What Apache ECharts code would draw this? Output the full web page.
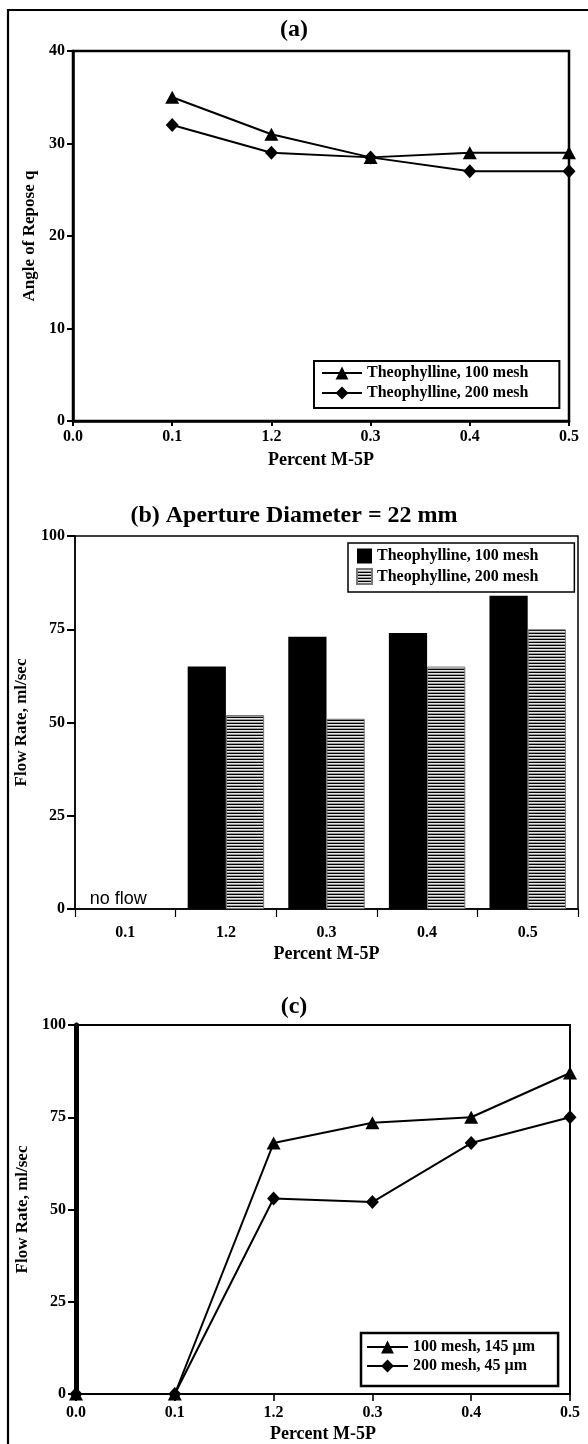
<!DOCTYPE html>
<html><head><meta charset="utf-8">
<script src="https://cdn.jsdelivr.net/npm/echarts@6/dist/echarts.min.js"></script>
<style>html,body{margin:0;padding:0;background:#fff}#c{width:588px;height:1444px}</style>
</head><body><div id="c"></div>
<script>
// ---- data ----
const aCategories = ['0.0', '0.1', '1.2', '0.3', '0.4', '0.5'];
const aTheo100 = ['-', 35, 31, 28.5, 29, 29];
const aTheo200 = ['-', 32, 29, 28.5, 27, 27];
const bCategories = ['0.1', '1.2', '0.3', '0.4', '0.5'];
const bTheo100 = ['-', 65, 73, 74, 84];
const bTheo200 = ['-', 52, 51, 65, 75];
const cCategories = ['0.0', '0.1', '1.2', '0.3', '0.4', '0.5'];
const c100mesh = [0, 0, 68, 73.5, 75, 87];
const c200mesh = [0, 0, 53, 52, 68, 75];
const titles = ['(a)', '(b) Aperture Diameter = 22 mm', '(c)'];
const legendText = {
  a100: 'Theophylline, 100 mesh', a200: 'Theophylline, 200 mesh',
  b100: 'Theophylline, 100 mesh', b200: 'Theophylline, 200 mesh',
  c100: '100 mesh, 145 µm', c200: '200 mesh, 45 µm'
};

const SERIF = 'Liberation Serif';
const txt = (size) => ({ color: '#000', fontFamily: SERIF, fontWeight: 'bold', fontSize: size });

// striped pattern
const pc = document.createElement('canvas');
pc.width = 4; pc.height = 3;
const g = pc.getContext('2d');
g.fillStyle = '#e6e6e6'; g.fillRect(0, 0, 4, 3);
g.fillStyle = '#000'; g.fillRect(0, 0, 4, 1);
g.fillStyle = '#9a9a9a'; g.fillRect(0, 2, 4, 1);
const stripe = { image: pc, repeat: 'repeat' };

const chart = echarts.init(document.getElementById('c'), null, { renderer: 'canvas' });

function xAx(gi, cats, gap, lw, tickLen, margin, nameGap) {
  return {
    type: 'category', gridIndex: gi, data: cats, boundaryGap: gap,
    name: 'Percent M-5P', nameLocation: 'middle', nameGap: nameGap, nameTextStyle: txt(18),
    axisLine: { lineStyle: { color: '#000', width: lw } },
    axisTick: { show: true, length: tickLen, interval: 0, lineStyle: { color: '#000', width: lw * 0.8 } },
    axisLabel: Object.assign(txt(16), { margin: margin, interval: 0 }),
    splitLine: { show: false }
  };
}
function yAx(gi, max, interval, name, lw, tickLen, margin, nameGap) {
  return {
    type: 'value', gridIndex: gi, min: 0, max: max, interval: interval,
    name: name, nameLocation: 'middle', nameGap: nameGap, nameTextStyle: txt(17),
    axisLine: { show: true, lineStyle: { color: '#000', width: lw } },
    axisTick: { show: true, length: tickLen, lineStyle: { color: '#000', width: 2 } },
    axisLabel: Object.assign(txt(16), { margin: margin }),
    splitLine: { show: false }
  };
}
const lineSeries = (id, xi, data, sym, size) => ({
  type: 'line', name: id, xAxisIndex: xi, yAxisIndex: xi, data: data,
  symbol: sym, symbolSize: size, showAllSymbol: true,
  lineStyle: { color: '#000', width: 2 }, itemStyle: { color: '#000' },
  connectNulls: false, animation: false
});
const legendCfg = (ids, left, top, pad, bw, iw, ih, gap, icon) => {
  const l = {
    data: ids, left: left, top: top, orient: 'vertical', padding: pad,
    borderColor: '#000', borderWidth: bw, itemWidth: iw, itemHeight: ih, itemGap: gap,
    textStyle: txt(16), formatter: (n) => legendText[n], selectedMode: false
  };
  if (icon) l.icon = icon;
  return l;
};

chart.setOption({
  animation: false,
  title: [
    { text: titles[0], left: 'center', top: 18, padding: [0, 0, 0, 10], textStyle: txt(24) },
    { text: titles[1], left: 'center', top: 504, padding: [0, 0, 0, 14], textStyle: txt(24) },
    { text: titles[2], left: 'center', top: 995, padding: [0, 0, 0, 10], textStyle: txt(24) }
  ],
  grid: [
    { left: 73, top: 51, width: 496, height: 370, show: true, borderColor: '#000', borderWidth: 2.5, backgroundColor: 'transparent' },
    { left: 75, top: 536, width: 503, height: 373, show: true, borderColor: '#000', borderWidth: 1.5, backgroundColor: 'transparent' },
    { left: 76, top: 1025, width: 494, height: 370, show: true, borderColor: '#000', borderWidth: 2, backgroundColor: 'transparent' }
  ],
  xAxis: [
    xAx(0, aCategories, false, 2.5, 5, 8, 30),
    xAx(1, bCategories, true, 1.5, 8, 16, 36),
    xAx(2, cCategories, false, 2, 7, 11, 31)
  ],
  yAxis: [
    yAx(0, 40, 10, 'Angle of Repose q', 2.5, 6, 8, 33),
    yAx(1, 100, 25, 'Flow Rate, ml/sec', 1.5, 8, 10, 35),
    yAx(2, 100, 25, 'Flow Rate, ml/sec', 5, 8, 10, 36)
  ],
  legend: [
    legendCfg(['a100', 'a200'], 314, 361, [4, 31, 7, 7], 2, 40, 16, 4),
    legendCfg(['b100', 'b200'], 348, 543, [5, 36, 7, 8], 1.5, 15, 15, 4, 'rect'),
    legendCfg(['c100', 'c200'], 361, 1333, [6, 23, 12, 5], 2.5, 41, 16, 3)
  ],
  series: [
    lineSeries('a100', 0, aTheo100, 'triangle', [14, 13]),
    lineSeries('a200', 0, aTheo200, 'diamond', [13, 14]),
    { type: 'bar', name: 'b100', xAxisIndex: 1, yAxisIndex: 1, data: bTheo100,
      barCategoryGap: '24%', barGap: '0%', itemStyle: { color: '#000' } },
    { type: 'bar', name: 'b200', xAxisIndex: 1, yAxisIndex: 1, data: bTheo200,
      barCategoryGap: '24%', barGap: '0%', itemStyle: { color: stripe, borderColor: '#777', borderWidth: 1 } },
    lineSeries('c100', 2, c100mesh, 'triangle', [14, 13]),
    lineSeries('c200', 2, c200mesh, 'diamond', [13, 14])
  ]
});

// annotation positioned through the axis scales
const p = chart.convertToPixel({ xAxisIndex: 1, yAxisIndex: 1 }, [bCategories[0], 0]);
chart.setOption({
  graphic: [
    { type: 'rect', shape: { x: 8, y: 10, width: 620, height: 1460 },
      style: { fill: 'none', stroke: '#000', lineWidth: 2.2 }, silent: true, z: 100 },
    { type: 'text', x: p[0] - 7, y: p[1] - 1,
      style: { text: 'no flow', font: '18px "Liberation Sans"', fill: '#000', textAlign: 'center', textVerticalAlign: 'bottom', align: 'center', verticalAlign: 'bottom' } }
  ]
});
</script>
</body></html>
